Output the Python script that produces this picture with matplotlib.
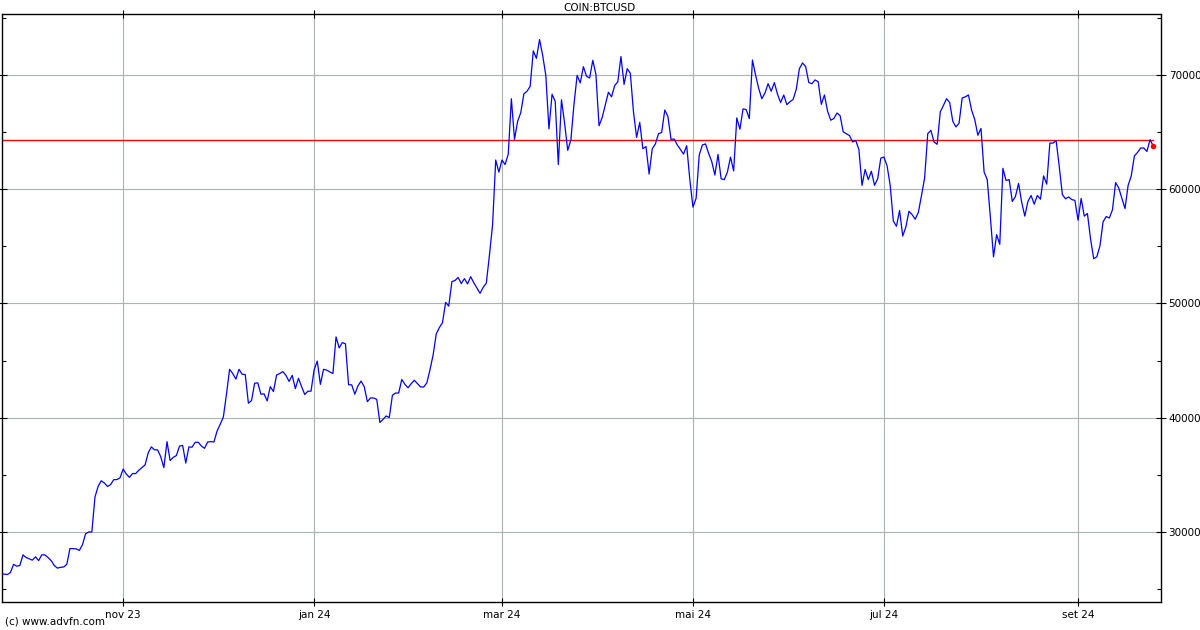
import numpy as np
import pandas as pd
import matplotlib
matplotlib.use("Agg")
import matplotlib.pyplot as plt
import matplotlib.dates as mdates
from matplotlib.ticker import FixedLocator, MultipleLocator

# daily closes, days counted from 2023-09-23
start = "2023-09-23"
days = [0, 2, 3, 4, 5, 6, 7, 8, 10, 11, 12, 13, 14, 15, 16, 17, 18, 19, 20, 21,
        22, 24, 25, 26, 27, 28, 29, 30, 31, 32, 33, 34, 35, 36, 37, 38, 39, 40, 41, 42,
        43, 44, 46, 47, 48, 49, 50, 51, 52, 53, 54, 55, 56, 57, 58, 59, 60, 61, 62, 63,
        64, 65, 66, 67, 68, 69, 70, 71, 72, 73, 74, 75, 76, 77, 78, 79, 80, 81, 82, 83,
        84, 85, 86, 87, 88, 89, 90, 91, 92,
        93, 94, 95, 96, 97, 98, 99, 100, 101, 102, 103, 104, 105, 106, 107, 108, 109, 110,
        111, 112, 113, 114, 115, 116, 117, 118, 119, 120, 121, 122, 123, 124, 125, 126, 127,
        128, 129, 130, 131, 132, 133, 134, 135, 136, 137, 138, 139, 140, 141, 142, 143, 144,
        145, 146, 147, 148, 149, 150, 151, 152, 153, 154, 155, 156, 157, 158, 159, 160, 161,
        162, 163, 164, 165, 166, 167, 168, 169, 170, 171, 172, 173, 174, 175, 176, 177, 178,
        179, 180, 181, 182, 183, 184,
        185, 186, 187, 188, 189, 190, 191, 192, 194, 195, 196, 197, 198, 199, 200, 201, 202,
        203, 204, 205, 206, 207, 208, 209, 210, 211, 212, 213, 214, 215, 216, 217, 218, 219,
        220, 221, 222, 223, 224, 225, 226, 227, 228, 229, 230, 231, 232, 233, 234, 235, 236,
        237, 238, 239, 240, 241, 242, 243, 244, 245, 246, 247, 248, 249, 250, 251, 252, 253,
        254, 255, 256, 257, 258, 259, 260, 261, 262, 263, 264, 265, 266, 267, 268, 269, 270,
        271, 272, 273, 274, 275, 276, 277,
        278, 279, 280, 281, 282, 283, 284, 285, 286, 287, 288, 289, 290, 291, 292, 293, 294,
        295, 296, 297, 298, 299, 300, 301, 302, 303, 304, 305, 306, 307, 308, 309, 310, 311,
        312, 313, 314, 315, 316, 317, 318, 319, 320, 321, 322, 323, 324, 325, 326, 327, 328,
        329, 330, 331, 332, 333, 334, 335, 336, 337, 338, 339, 340, 341, 342, 343, 344, 345,
        346, 347, 348, 349, 350, 351, 352, 353, 354, 355, 356, 357, 358, 359, 360, 361, 362,
        363, 364, 365, 366, 367, 368]
prices = [26310, 26240, 26410, 27130, 26970, 27030, 27960, 27730, 27500, 27790, 27460, 27960,
          27960, 27730, 27460, 27030, 26800, 26870, 26900, 27130,
          28520, 28490, 28350, 28850, 29810, 29970, 29970, 33040, 33960, 34460, 34260, 33960,
          34130, 34560, 34560, 34720, 35480, 35050, 34760, 35090,
          35090, 35380, 35850, 36900, 37430, 37170, 37170, 36570, 35610, 37890, 36240, 36510,
          36670, 37500, 37560, 36010, 37430, 37400, 37830, 37830,
          37500, 37300, 37860, 37890, 37860, 38820, 39410, 40040, 42050, 44230, 43860, 43370,
          44230, 43800, 43770, 41260, 41490, 43010, 43040, 42050,
          42080, 41460, 42710, 42280, 43730, 43860, 44030, 43700, 43170,
          43700, 42540, 43440, 42710, 42020, 42310, 42310, 44190, 44950, 42910, 44230, 44160,
          44000, 43860, 47070, 46110, 46570, 46470,
          42870, 42870, 42050, 42780, 43200, 42710, 41390, 41720, 41720, 41590, 39570, 39840,
          40140, 40000, 41950, 42150, 42150,
          43340, 42910, 42610, 42970, 43270, 42970, 42680, 42680, 43040, 44190, 45480, 47330,
          47890, 48320, 50100, 49770, 51920,
          52020, 52280, 51750, 52180, 51720, 52350, 51820, 51360, 50890, 51420, 51780, 54260,
          56900, 62580, 61520, 62580, 62180,
          63100, 67950, 64390, 65970, 66730, 68380, 68610, 69040, 72150, 71490, 73140, 71750,
          70000, 65310, 68350, 67720, 62180,
          67860, 65810, 63430, 64320, 67460, 70000,
          69340, 70760, 69930, 69770, 71320, 70100, 65580, 66300, 68520, 68120, 69110, 69440,
          71650, 69210, 70590, 70170, 66800,
          64560, 65880, 63570, 63760, 61350, 63570, 63990, 64890, 64980, 66960, 66400, 64390,
          64420, 63900, 63500, 63100, 63830,
          60860, 58450, 59210, 63000, 63900, 63990, 63170, 62440, 61260, 63070, 60930, 60860,
          61520, 62840, 61620, 66270, 65280,
          67060, 67000, 66210, 71350, 70030, 68850, 67950, 68450, 69270, 68610, 69370, 68350,
          67620, 68280, 67430, 67690, 67890,
          68780, 70590, 71090, 70760, 69370, 69270, 69600, 69440, 67460, 68280, 66870, 66070,
          66210, 66700, 66470, 65050, 64890,
          64720, 64160, 64290, 63500, 60360, 61750, 60860,
          61590, 60360, 60930, 62740, 62840, 62080, 60360, 57230, 56770, 58150, 55910, 56700,
          58090, 57790, 57390, 57990, 59470,
          61020, 64890, 65180, 64160, 63960, 66800, 67360, 67950, 67620, 65970, 65480, 65810,
          68020, 68120, 68280, 66960, 66140,
          64750, 65350, 61520, 60860, 57560, 54090, 56040, 55180, 61850, 60790, 60860, 58950,
          59370, 60530, 58880, 57660, 58950,
          59470, 58710, 59470, 59140, 61190, 60460, 64060, 64060, 64290, 62010, 59540, 59180,
          59340, 59110, 59040, 57300, 59210,
          57660, 57890, 55650, 53930, 54090, 55050, 57160, 57630, 57490, 58220, 60600, 60130,
          59210, 58320, 60360, 61190, 62940,
          63240, 63630, 63630, 63330, 64360, 63830]
ref_level = 64290

tick_dates = ["2023-11-01", "2024-01-01", "2024-03-01", "2024-05-01", "2024-07-01", "2024-09-01"]
tick_labels = ["nov 23", "jan 24", "mar 24", "mai 24", "jul 24", "set 24"]

dates = pd.Timestamp(start) + pd.to_timedelta(days, unit="D")

plt.rcParams["font.family"] = ["DejaVu Sans"]
fig = plt.figure(figsize=(12, 6.3), dpi=100)
ax = fig.add_axes([2 / 1200, 1 - 602 / 630, 1159 / 1200, 588 / 630])

ax.plot(dates, prices, color="#0000ff", lw=0.9, zorder=3)
ax.plot([dates[0], dates[-1]], [ref_level, ref_level], color="#ff0000", lw=1.0, zorder=2)
ax.plot([dates[-1]], [prices[-1]], "o", color="#ff0000", ms=3.0, zorder=4)

x0 = mdates.date2num(pd.Timestamp(start))
ax.set_xlim(x0 + 0.3, x0 + 370.5)
ax.set_ylim(23830, 75380)

ax.xaxis.set_major_locator(FixedLocator(mdates.date2num(pd.to_datetime(tick_dates))))
ax.set_xticklabels(tick_labels)
ax.yaxis.set_major_locator(MultipleLocator(10000))
ax.yaxis.set_minor_locator(MultipleLocator(5000))
ax.yaxis.set_major_formatter(plt.FuncFormatter(lambda v, p: f"{int(v)}"))

ax.grid(True, which="major", color="#a8b4b4", lw=0.8, zorder=1)
ax.tick_params(axis="y", which="both", left=True, right=True, labelleft=False,
               labelright=True, labelsize=7.5, pad=2)
ax.tick_params(axis="y", which="major", direction="inout", length=7, width=0.8)
ax.tick_params(axis="y", which="minor", direction="in", length=3, width=0.8)
ax.tick_params(axis="x", which="major", top=True, bottom=True, direction="inout",
               length=6, width=0.8, labelsize=7.5, pad=3)
for s in ax.spines.values():
    s.set_linewidth(1.0)
    s.set_color("black")

fig.text(0.5, 1 - 8 / 630, "COIN:BTCUSD", ha="center", va="center", fontsize=7.5)
fig.text(5 / 1200, 1 - 622 / 630, "(c) www.advfn.com", ha="left", va="center", fontsize=7.5)

fig.savefig("out.png", dpi=100)
